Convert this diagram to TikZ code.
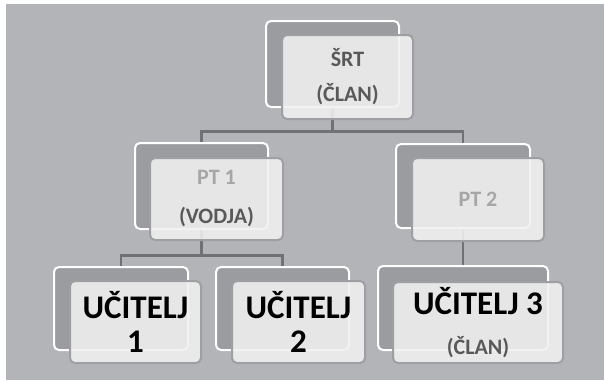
\documentclass[tikz,border=0pt]{standalone}
\usepackage{fontspec}
\setmainfont{Carlito}
\definecolor{bgray}{RGB}{178,180,183}
\definecolor{backfill}{RGB}{155,156,160}
\definecolor{frontfill}{RGB}{241,241,241}
\definecolor{frontline}{RGB}{158,159,162}
\definecolor{connc}{RGB}{112,113,116}
\definecolor{darktxt}{RGB}{89,89,89}
\definecolor{lighttxt}{RGB}{166,166,166}
\pgfdeclarelayer{bglayer}
\pgfdeclarelayer{connlayer}
\pgfsetlayers{bglayer,connlayer,main}
\begin{document}
\begin{tikzpicture}[x=1pt,y=-1pt,
  backbox/.style={draw=white, line width=2pt, fill=backfill, rounded corners=5pt, inner sep=0pt},
  frontbox/.style={draw=frontline, line width=2pt, fill=frontfill, fill opacity=0.88, text opacity=1, rounded corners=5pt, inner sep=0pt, align=center},
  smalltxt/.style={font=\bfseries\fontsize{22}{35}\selectfont},
  bigtxt/.style={font=\bfseries\fontsize{33}{34}\selectfont},
  conn/.style={draw=connc, line width=2.5pt}]
\useasboundingbox (0,0) rectangle (604,380);
\begin{pgfonlayer}{bglayer}
\fill[white] (0,0) rectangle (604,380);
\fill[bgray] (6,4) rectangle (604,380);
\end{pgfonlayer}
% back boxes
\node[backbox, minimum width=133pt, minimum height=86pt] (rootb) at (332.5,64) {};
\node[backbox, minimum width=133pt, minimum height=86pt] (pt1b) at (201.5,186) {};
\node[backbox, minimum width=134pt, minimum height=84pt] (pt2b) at (463,186) {};
\node[backbox, minimum width=134pt, minimum height=83pt] (u1b) at (121,308.5) {};
\node[backbox, minimum width=133pt, minimum height=83pt] (u2b) at (282.5,308.5) {};
\node[backbox, minimum width=170pt, minimum height=84pt] (u3b) at (463,308) {};
% front boxes
\node[frontbox, smalltxt, text=darktxt, minimum width=131pt, minimum height=84pt] (root) at (347.5,77) {ŠRT\\(ČLAN)};
\node[frontbox, smalltxt, minimum width=133pt, minimum height=82pt] (pt1) at (216.5,199)
  {\textcolor{lighttxt}{PT 1}\\[4pt]\textcolor{darktxt}{(VODJA)}};
\node[frontbox, smalltxt, text=lighttxt, minimum width=132pt, minimum height=83pt] (pt2) at (478,199.5) {PT 2};
\node[frontbox, bigtxt, text=black, minimum width=131pt, minimum height=82pt] (u1) at (135.5,322) {UČITELJ\\1};
\node[frontbox, bigtxt, text=black, minimum width=133pt, minimum height=82pt] (u2) at (298.5,322) {UČITELJ\\2};
\node[frontbox, bigtxt, text=black, minimum width=170pt, minimum height=81pt] (u3) at (478,322.5)
  {UČITELJ 3\\[6pt]{\fontsize{22}{35}\selectfont\textcolor{darktxt}{(ČLAN)}}};
% connectors
\coordinate (j1) at (332.5,131.5);
\coordinate (j2) at (201.5,255.5);
\begin{pgfonlayer}{connlayer}
\draw[conn] (rootb.center) -- (j1) -| (pt1b.center);
\draw[conn] (j1) -| (pt2b.center);
\draw[conn] (pt1b.center) -- (j2) -| (u1b.center);
\draw[conn] (j2) -| (u2b.center);
\draw[conn] (pt2b.center) -- (u3b.center);
\end{pgfonlayer}
\end{tikzpicture}
\end{document}
